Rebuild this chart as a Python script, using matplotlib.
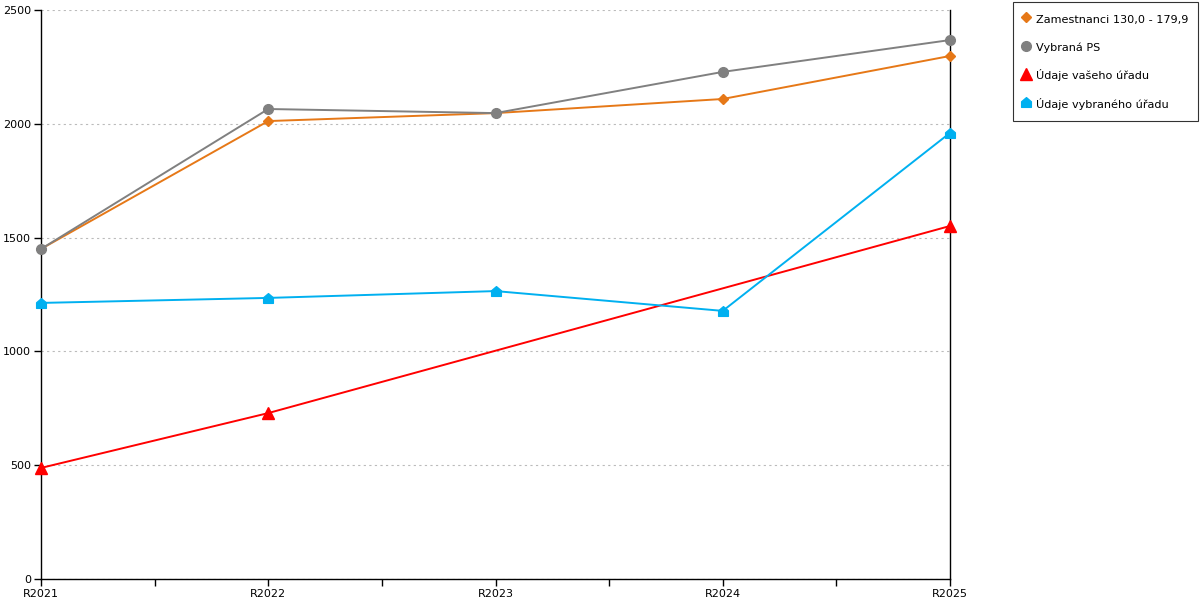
import numpy as np
import matplotlib.pyplot as plt
from matplotlib.path import Path

years = ['R2021', 'R2022', 'R2023', 'R2024', 'R2025']
zamestnanci = [1450, 2012, 2047, 2109, 2298]
vybrana_ps = [1450, 2065, 2047, 2228, 2368]
vas_urad = [488, 729, np.nan, np.nan, 1551]
vybrany_urad = [1213, 1235, 1265, 1178, 1960]

house = Path([(-1, -1), (1, -1), (1, 0.15), (0, 1), (-1, 0.15), (-1, -1)],
             [Path.MOVETO, Path.LINETO, Path.LINETO, Path.LINETO, Path.LINETO, Path.CLOSEPOLY])

plt.rcParams['font.family'] = 'DejaVu Sans'
fig = plt.figure(figsize=(12, 6), dpi=100)
ax = fig.add_axes([41 / 1200, 21 / 600, 909 / 1200, 569 / 600])

x = np.arange(len(years))


def draw(vals, color, marker, ms, label):
    v = np.array(vals, dtype=float)
    ok = ~np.isnan(v)
    ax.plot(x[ok], v[ok], color=color, marker=marker, markersize=ms,
            linewidth=1.4, label=label, clip_on=False, zorder=3)


draw(zamestnanci, '#e67817', 'D', 5, 'Zamestnanci 130,0 - 179,9')
draw(vybrana_ps, '#808080', 'o', 7, 'Vybraná PS')
draw(vas_urad, '#ff0000', '^', 8, 'Údaje vašeho úřadu')
draw(vybrany_urad, '#00b0f0', house, 7, 'Údaje vybraného úřadu')

ax.set_xlim(0, 4)
ax.set_ylim(0, 2500)
ax.set_xticks(x)
ax.set_xticklabels(years, fontsize=8)
ax.set_xticks([0.5, 1.5, 2.5, 3.5], minor=True)
ax.tick_params(axis='x', which='both', direction='out', length=5, width=1, pad=2)
ax.set_yticks([0, 500, 1000, 1500, 2000, 2500])
ax.tick_params(axis='y', direction='out', length=5, width=1, labelsize=8, pad=2)
ax.grid(axis='y', color='#bbbbbb', linestyle=(0, (2, 3)), linewidth=0.8)
ax.spines['top'].set_visible(False)
for s in ['left', 'right', 'bottom']:
    ax.spines[s].set_color('black')
    ax.spines[s].set_linewidth(1)

leg = fig.legend(loc='upper left', bbox_to_anchor=(1013 / 1200, 1 - 2 / 600),
                 fontsize=8.1, frameon=True, fancybox=False, edgecolor='black',
                 handlelength=0.5, handleheight=1.5, handletextpad=0.6,
                 labelspacing=1.3, borderpad=0.9, borderaxespad=0)
leg.get_frame().set_linewidth(0.8)
for h in leg.legend_handles:
    h.set_linestyle('none')

fig.savefig('out.png', dpi=100)
